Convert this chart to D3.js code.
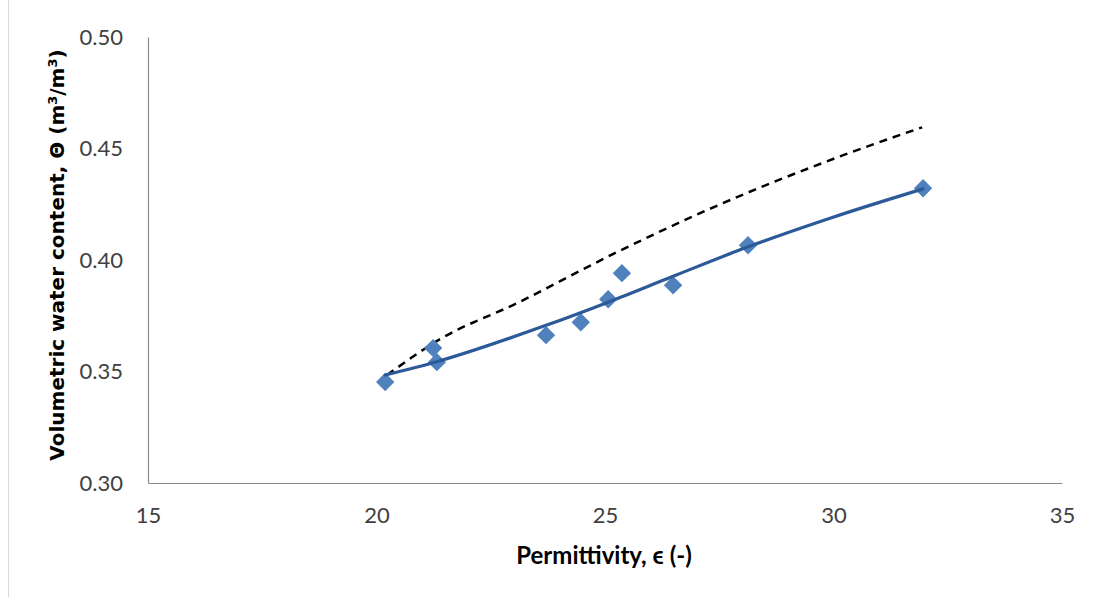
<!DOCTYPE html>
<html lang="en">

<head>
    <meta charset="UTF-8">
    <title>Permittivity vs water content</title>
    <script src="https://d3js.org/d3.v7.min.js"></script>
    <style>
        body {
            margin: 0;
            background: #fff;
        }

        .tick text {
            font-family: Lato, sans-serif;
            font-size: 22px;
            fill: #404040;
        }

        .axisTitle {
            font-weight: bold;
            fill: #000;
        }
    </style>
</head>

<body>
    <svg width="1099" height="597"></svg>

    <script>
        // measured points
        const permittivity = [20.19, 21.24, 21.32, 23.71, 24.47, 25.07, 25.37, 26.49, 28.13, 31.96];
        const waterContent = [0.3453, 0.3605, 0.3542, 0.3663, 0.3721, 0.3824, 0.3941, 0.3887, 0.4066, 0.4322];

        // fitted curve (solid)
        const fitX = [20.19, 21.32, 23.71, 25.07, 26.49, 28.13, 29.99, 31.96];
        const fitY = [0.3484, 0.3544, 0.3707, 0.3811, 0.3927, 0.4059, 0.4192, 0.4319];

        // reference curve (dashed)
        const refX = [20.23, 21.39, 23.07, 25.26, 27.08, 30.32, 31.94];
        const refY = [0.3484, 0.3645, 0.3806, 0.4035, 0.4210, 0.4478, 0.4595];

        const xTicks = [15, 20, 25, 30, 35];
        const yTicks = [0.30, 0.35, 0.40, 0.45, 0.50];

        const svg = d3.select("svg");

        // left frame edge
        svg.append("line")
            .attr("x1", 8.5).attr("x2", 8.5)
            .attr("y1", 0).attr("y2", 597)
            .attr("stroke", "#d9d9d9");

        const x = d3.scaleLinear().domain([15, 35]).range([148, 1062]);
        const y = d3.scaleLinear().domain([0.30, 0.50]).range([483, 37]);

        const xAxis = svg.append("g")
            .attr("transform", "translate(0,483)")
            .call(d3.axisBottom(x).tickValues(xTicks).tickSize(0).tickPadding(24)
                .tickFormat(d3.format("d")));

        const yAxis = svg.append("g")
            .attr("transform", "translate(148,0)")
            .call(d3.axisLeft(y).tickValues(yTicks).tickSize(0).tickPadding(25)
                .tickFormat(d3.format(".2f")));

        [xAxis, yAxis].forEach(function (g) {
            g.select(".domain").attr("stroke", "#8c8c8c").attr("stroke-width", 1.2);
        });

        const line = d3.line()
            .x(function (d) { return x(d[0]); })
            .y(function (d) { return y(d[1]); })
            .curve(d3.curveMonotoneX);

        svg.append("path")
            .datum(d3.zip(refX, refY))
            .attr("d", line)
            .attr("fill", "none")
            .attr("stroke", "#000")
            .attr("stroke-width", 2.5)
            .attr("stroke-dasharray", "8,6");

        // markers drawn before the fit line
        svg.append("g")
            .selectAll("rect")
            .data(d3.zip(permittivity, waterContent))
            .enter()
            .append("rect")
            .attr("x", -6.5).attr("y", -6.5)
            .attr("width", 13).attr("height", 13)
            .attr("fill", "#4f81bd")
            .attr("transform", function (d) {
                return "translate(" + x(d[0]) + "," + y(d[1]) + ") rotate(45)";
            });

        svg.append("path")
            .datum(d3.zip(fitX, fitY))
            .attr("d", line)
            .attr("fill", "none")
            .attr("stroke", "#2c5a98")
            .attr("stroke-width", 3.2)
            .attr("stroke-linecap", "round");

        svg.append("text")
            .attr("class", "axisTitle")
            .attr("x", 604).attr("y", 564)
            .attr("text-anchor", "middle")
            .style("font-family", "Lato, sans-serif")
            .style("font-size", "24px")
            .text("Permittivity, \u03f5 (-)");

        const yTitle = svg.append("text")
            .attr("class", "axisTitle")
            .attr("transform", "translate(64,255) rotate(-90)")
            .attr("text-anchor", "middle")
            .style("font-family", "'DejaVu Sans', sans-serif")
            .style("font-size", "20px");
        yTitle.append("tspan").text("Volumetric water content, \u0398 (m");
        yTitle.append("tspan").attr("dy", -7).style("font-size", "13px").text("3");
        yTitle.append("tspan").attr("dy", 7).text("/m");
        yTitle.append("tspan").attr("dy", -7).style("font-size", "13px").text("3");
        yTitle.append("tspan").attr("dy", 7).text(")");
    </script>
</body>

</html>
